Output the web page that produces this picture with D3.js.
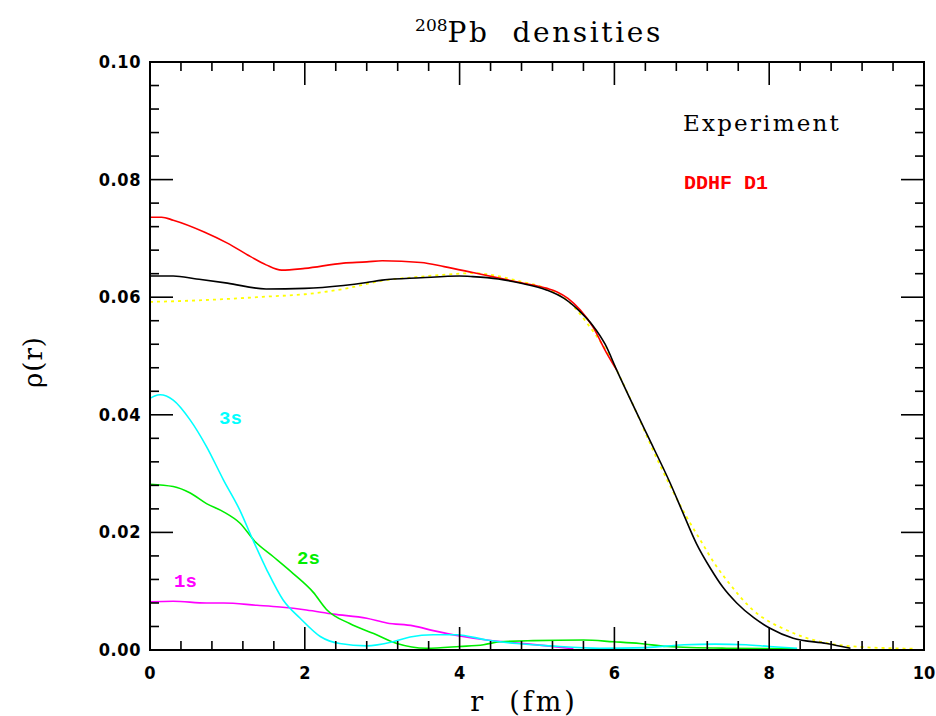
<!DOCTYPE html>
<html><head><meta charset="utf-8">
<script src="https://cdn.jsdelivr.net/npm/d3@7"></script>
<style>body{margin:0;background:#fff}svg{display:block}</style>
</head><body>
<svg id="c" width="936" height="716"></svg>
<script>
// ---- data (r in fm, rho in fm^-3) ----
const expR   = [0,0.3,0.6,1,1.5,2,2.5,2.8,3,3.5,4,4.17,4.5,4.78,5.13,5.35,5.56,5.72,5.88,6.03,6.42,6.72,6.89,7.06,7.24,7.4,7.58,7.8,8.01,8.31,8.74,9.05];
const expRho = [0.0636,0.0636,0.0631,0.0624,0.0614,0.0615,0.0620,0.0625,0.0629,0.0633,0.0636,0.0635,0.0631,0.0624,0.0612,0.0598,0.0575,0.0552,0.0520,0.0476,0.0367,0.0284,0.0232,0.0181,0.0139,0.0107,0.0080,0.0055,0.0037,0.0020,0.0011,0.0003];
const ddhfR   = [0,0.15,0.3,0.7,1,1.3,1.5,1.7,2,2.5,2.8,3,3.5,3.8,4.17,4.78,5.13,5.26,5.4,5.56,5.72,5.90,6.03];
const ddhfRho = [0.0736,0.0736,0.0731,0.0711,0.0692,0.0669,0.0655,0.0646,0.0649,0.0658,0.0660,0.0662,0.0659,0.0652,0.0642,0.0625,0.0615,0.0609,0.0598,0.0578,0.0550,0.0505,0.0476];
const fitR   = [0,0.5,1,1.5,2,2.5,3,3.5,4,4.17,4.78,5.13,5.43,5.68,5.94,6.16,6.59,6.93,7.11,7.32,7.45,7.79,8.22,8.66,9.09,9.6,9.9];
const fitRho = [0.0592,0.0594,0.0597,0.0601,0.0605,0.0614,0.0628,0.0635,0.0640,0.0641,0.0627,0.0614,0.0590,0.0550,0.0499,0.0440,0.0314,0.0227,0.0187,0.0142,0.0119,0.0068,0.0034,0.0014,0.0006,0.0003,0.0002];
const s3R   = [0,0.06,0.13,0.3,0.52,0.73,0.95,1.16,1.33,1.51,1.72,1.94,2.2,2.45,2.8,3.14,3.36,3.66,3.96,4.35,4.74,5.17,5.81,6.4,6.9,7.3,7.7,8.0,8.36];
const s3Rho = [0.0428,0.0432,0.0434,0.0425,0.0391,0.0346,0.0289,0.0238,0.0187,0.0136,0.0085,0.0054,0.0023,0.0011,0.0007,0.0014,0.0022,0.0026,0.0026,0.0017,0.0011,0.0007,0.0003,0.0004,0.0009,0.0010,0.0009,0.0006,0.0003];
const s2R   = [0,0.3,0.52,0.73,0.95,1.16,1.36,1.59,1.85,2.11,2.28,2.58,2.89,3.19,3.57,4.0,4.31,4.52,4.95,5.6,5.99,6.33,6.68,7.45,8.36];
const s2Rho = [0.0282,0.0278,0.0267,0.0249,0.0235,0.0216,0.0184,0.0159,0.0130,0.0098,0.0069,0.0045,0.0028,0.0011,0.0003,0.0006,0.0009,0.0014,0.0016,0.0017,0.0014,0.0011,0.0006,0.0003,0.0002];
const s1R   = [0,0.3,0.73,0.95,1.38,1.68,2.02,2.37,2.8,3.06,3.4,3.66,4.0,4.35,4.74,5.13,5.47];
const s1Rho = [0.0082,0.0083,0.0080,0.0080,0.0076,0.0073,0.0068,0.0061,0.0054,0.0046,0.0041,0.0033,0.0024,0.0017,0.0012,0.0007,0.0002];
const xTicks = [0,2,4,6,8,10];
const yTicks = [0,0.02,0.04,0.06,0.08,0.10];

const svg = d3.select("#c");
const L=150,R=924,T=62,B=650;
const x = d3.scaleLinear().domain([0,10]).range([L,R]);
const y = d3.scaleLinear().domain([0,0.10]).range([B,T]);

// title
const title = svg.append("text").attr("x",539).attr("y",42).attr("text-anchor","middle")
  .attr("font-family","DejaVu Serif").attr("font-size",28).attr("fill","#000").attr("xml:space","preserve");
title.append("tspan").text("208").attr("font-size",17).attr("dy",-11).attr("letter-spacing",0);
title.append("tspan").text("Pb  densities").attr("dy",11).attr("letter-spacing",2.6);

// curves
const line = d3.line().x(d=>x(d[0])).y(d=>y(d[1])).curve(d3.curveMonotoneX);
function draw(rs, vs, color, dash, w){
  svg.append("path").datum(rs.map((r,i)=>[r,vs[i]])).attr("d",line)
    .attr("fill","none").attr("stroke",color).attr("stroke-width",w)
    .attr("stroke-dasharray",dash||null);
}
draw(fitR,fitRho,"#ffff00","3,4",1.8);
draw(s1R,s1Rho,"#ff00ff",null,1.6);
draw(s2R,s2Rho,"#00ee00",null,1.6);
draw(s3R,s3Rho,"#00ffff",null,1.6);
draw(ddhfR,ddhfRho,"#ff0000",null,1.6);
draw(expR,expRho,"#000000",null,1.6);

// frame & ticks
const g = svg.append("g").attr("stroke","#000").attr("stroke-width",1.6);
g.append("rect").attr("x",L).attr("y",T).attr("width",R-L).attr("height",B-T).attr("fill","none").attr("stroke-width",2);
const xMinor = d3.range(0,10.001,0.4), yMinor = d3.range(0,0.1001,0.004);
xMinor.forEach(v=>{
  const major = Math.abs(v/2-Math.round(v/2))<1e-6, len = major?23:9;
  g.append("line").attr("x1",x(v)).attr("x2",x(v)).attr("y1",B).attr("y2",B-len);
  g.append("line").attr("x1",x(v)).attr("x2",x(v)).attr("y1",T).attr("y2",T+len);
});
yMinor.forEach(v=>{
  const major = Math.abs(v/0.02-Math.round(v/0.02))<1e-6, len = major?23:9;
  g.append("line").attr("y1",y(v)).attr("y2",y(v)).attr("x1",L).attr("x2",L+len);
  g.append("line").attr("y1",y(v)).attr("y2",y(v)).attr("x1",R).attr("x2",R-len);
});
// tick labels
const tf = "'DejaVu Sans Condensed','DejaVu Sans'";
xTicks.forEach(v=>svg.append("text").attr("x",x(v)).attr("y",B+29).attr("text-anchor","middle")
  .attr("font-family",tf).attr("font-weight","bold").attr("font-size",18).text(d3.format("d")(v)));
yTicks.forEach(v=>svg.append("text").attr("x",L-9).attr("y",y(v)+6).attr("text-anchor","end")
  .attr("font-family",tf).attr("font-weight","bold").attr("font-size",18).attr("letter-spacing",0.6).text(d3.format(".2f")(v)));

// axis titles
svg.append("text").attr("x",524).attr("y",711).attr("text-anchor","middle")
  .attr("font-family","DejaVu Serif").attr("font-size",27).attr("letter-spacing",3).attr("xml:space","preserve").text("r  (fm)");
svg.append("text").attr("transform","translate(42,362) rotate(-90)").attr("text-anchor","middle")
  .attr("font-family","DejaVu Serif").attr("font-size",26).attr("letter-spacing",1).text("ρ(r)");

// labels
svg.append("text").attr("x",683).attr("y",131).attr("font-family","DejaVu Serif").attr("font-size",23).attr("letter-spacing",2.2).text("Experiment");
svg.append("text").attr("x",684).attr("y",189).attr("font-family","'Liberation Mono'").attr("font-weight","bold")
  .attr("font-size",20).attr("fill","#ff0000").text("DDHF D1");
svg.append("text").attr("x",219).attr("y",424).attr("font-family","'Liberation Mono'").attr("font-weight","bold").attr("font-size",19).attr("fill","#00ffff").text("3s");
svg.append("text").attr("x",297).attr("y",564).attr("font-family","'Liberation Mono'").attr("font-weight","bold").attr("font-size",19).attr("fill","#00ee00").text("2s");
svg.append("text").attr("x",174).attr("y",587).attr("font-family","'Liberation Mono'").attr("font-weight","bold").attr("font-size",19).attr("fill","#ff00ff").text("1s");
</script>
</body></html>
